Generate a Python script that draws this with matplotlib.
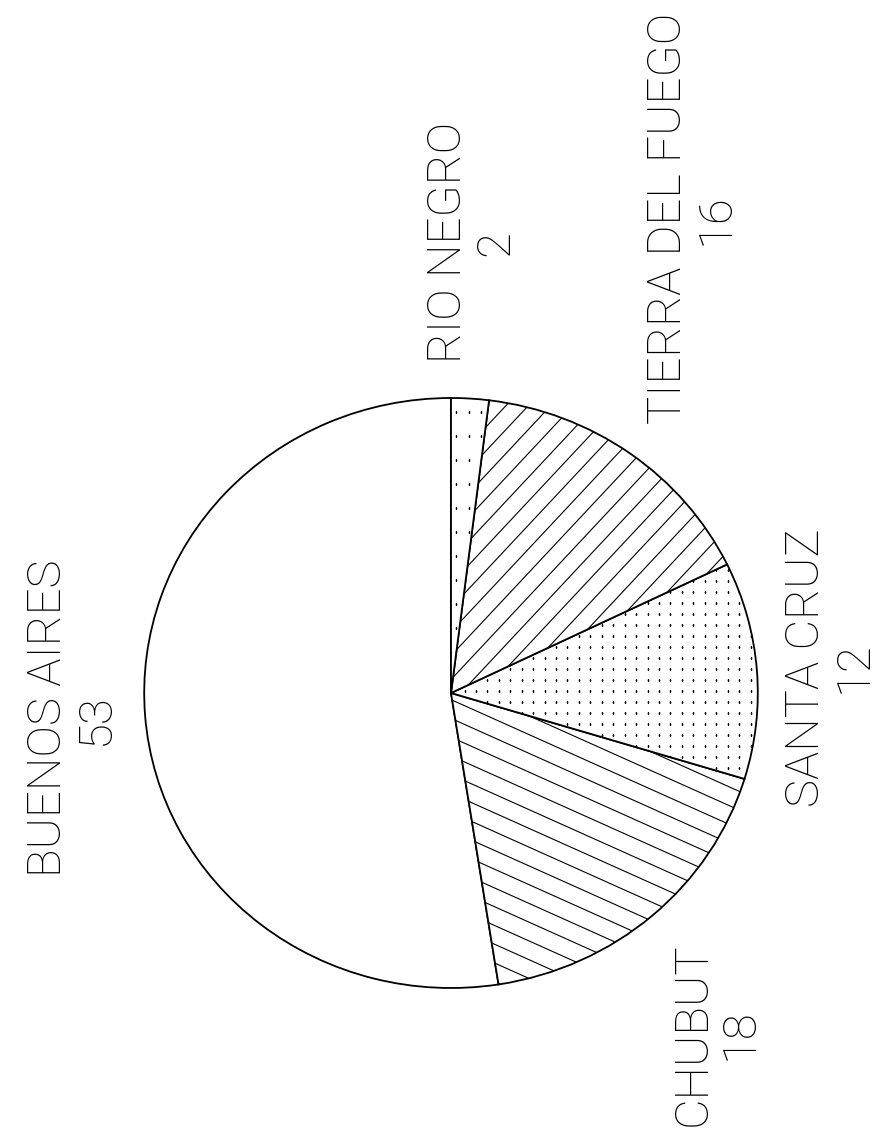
import numpy as np
import matplotlib.pyplot as plt
from matplotlib.collections import LineCollection

# datos (porcentajes)
provincias = ["BUENOS AIRES", "CHUBUT", "SANTA CRUZ", "TIERRA DEL FUEGO", "RIO NEGRO"]
valores = [53, 18, 12, 16, 2]

W, H = 887, 1134
fig = plt.figure(figsize=(W / 100, H / 100), dpi=100)
ax = fig.add_axes([0, 0, 1, 1])
cx, cy, R = 451, H - 693, 295
sx = 1.04  # el circulo original esta un poco achatado

wedges, _ = ax.pie(valores, startangle=90, counterclock=True, center=(cx, cy),
                   radius=R, colors=['white'] * len(valores),
                   wedgeprops=dict(edgecolor='black', linewidth=1.3))
ax.set_aspect('auto')
ax.set_xlim(cx - cx / sx, cx + (W - cx) / sx)
ax.set_ylim(0, H)
ax.axis('off')


# rayado a mano (angulo libre)
def lineas(w, ang, paso):
    t = np.deg2rad(ang)
    d = np.array([np.cos(t), np.sin(t)])
    n = np.array([-d[1], d[0]])
    segs = []
    for k in np.arange(-R, R + paso, paso):
        p = np.array([cx, cy]) + n * k
        segs.append([p - d * R * 1.1, p + d * R * 1.1])
    lc = LineCollection(segs, colors='black', linewidths=0.8)
    ax.add_collection(lc)
    lc.set_clip_path(w)


# punteado
def puntos(w, dx, dy):
    xs = np.arange(cx - R, cx + R, dx)
    ys = np.arange(cy - R, cy + R, dy)
    X, Y = np.meshgrid(xs, ys)
    pts, = ax.plot(X.ravel(), Y.ravel(), ls='none', marker='s', ms=1.2,
                   color='black', mew=0)
    pts.set_clip_path(w)


for w, nombre in zip(wedges, provincias):
    if nombre == "CHUBUT":
        lineas(w, -25, 17)
    elif nombre == "TIERRA DEL FUEGO":
        lineas(w, 48, 16)
    elif nombre == "SANTA CRUZ":
        puntos(w, 11, 11)
    elif nombre == "RIO NEGRO":
        puntos(w, 12, 24)

# etiquetas giradas 90 grados
for w, nombre, v in zip(wedges, provincias, valores):
    mid = np.deg2rad((w.theta1 + w.theta2) / 2)
    c, s = np.cos(mid), np.sin(mid)
    x = cx + 1.09 * R * c
    y = cy + 1.12 * R * s
    ha = 'left' if c > 0.3 else ('right' if c < -0.3 else 'center')
    va = 'bottom' if s > 0.3 else ('top' if s < -0.3 else 'center')
    ax.text(x, y, "%s\n%d" % (nombre, v), rotation=90, ha=ha, va=va,
            multialignment='center', fontsize=34, family='Roboto',
            fontweight='light', linespacing=1.1)

fig.savefig('out.png', dpi=100, facecolor='white')
